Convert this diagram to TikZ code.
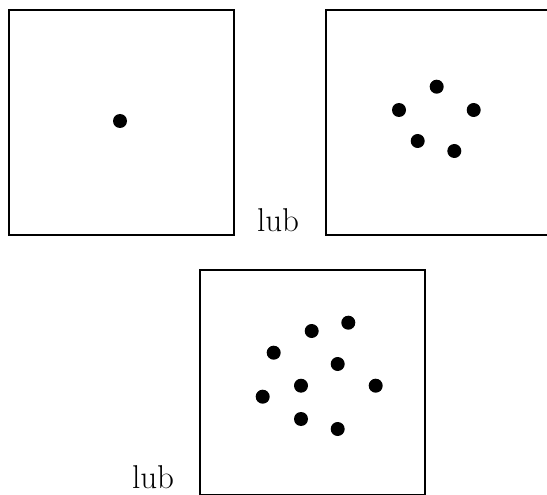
\documentclass[tikz,border=0pt]{standalone}
\begin{document}
\begin{tikzpicture}[x=1pt,y=-1pt,
  frame/.style={draw,line width=1.6pt,rectangle,minimum width=225pt,minimum height=225pt,inner sep=0pt,anchor=north west},
  dot/.style={fill,circle,minimum size=14pt,inner sep=0pt},
  lbl/.style={anchor=base,inner sep=0pt,font=\fontsize{33}{39}\selectfont}]
\useasboundingbox (0,0) rectangle (547,495);
\node[frame] (b1) at (8,9) {};
\node[frame,minimum width=226pt] (b2) at (325,9) {};
\node[frame] (b3) at (199,269) {};
\node[dot] (d1) at (120,121) {};
\node[dot] (e1) at (436.7,86.7) {};
\node[dot] (e2) at (399,110) {};
\node[dot] (e3) at (473.7,110) {};
\node[dot] (e4) at (417.7,141) {};
\node[dot] (e5) at (454.3,151) {};
\node[dot] (f1) at (311.7,331) {};
\node[dot] (f2) at (348.3,322.7) {};
\node[dot] (f3) at (273.7,352.7) {};
\node[dot] (f4) at (337.7,364) {};
\node[dot] (f5) at (301,385.7) {};
\node[dot] (f6) at (375.7,385.7) {};
\node[dot] (f7) at (262.7,396.7) {};
\node[dot] (f8) at (301,419) {};
\node[dot] (f9) at (337.7,429) {};
\node[lbl] (l1) at (278,231) {lub};
\node[lbl] (l2) at (153,488) {lub};
\end{tikzpicture}
\end{document}
